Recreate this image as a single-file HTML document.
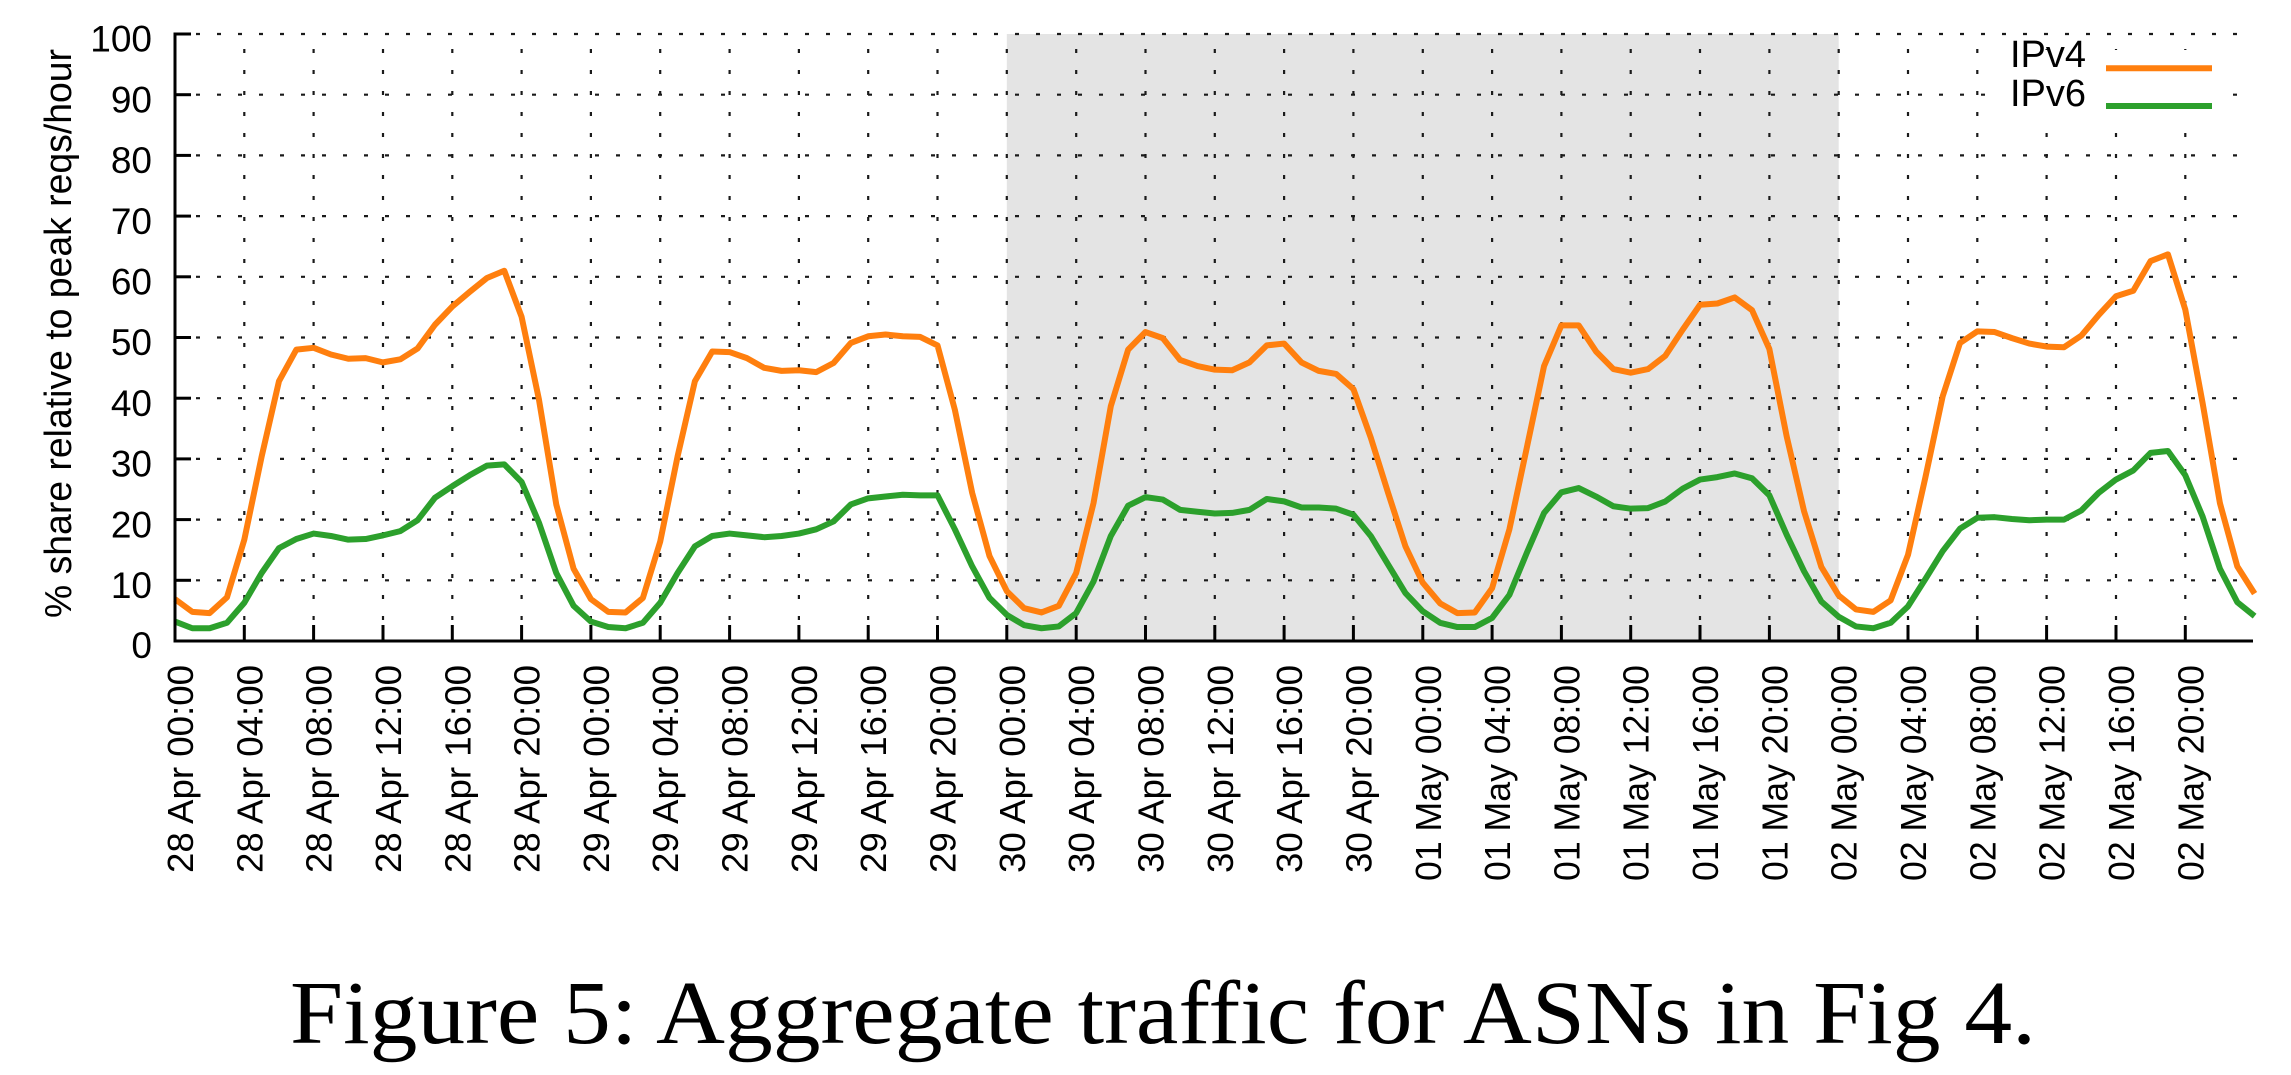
<!DOCTYPE html>
<html>
<head>
<meta charset="utf-8">
<style>
  html, body { margin: 0; padding: 0; background: #ffffff; }
  svg { display: block; }
  text { font-family: "Liberation Sans", Arial, sans-serif; fill: #000; }
  .title { font-family: "Liberation Serif", "Times New Roman", serif; }
</style>
</head>
<body>
<svg width="2291" height="1075" viewBox="0 0 2291 1075" xmlns="http://www.w3.org/2000/svg">
  <rect x="0" y="0" width="2291" height="1075" fill="#ffffff"/>

  <!-- weekend shading -->
  <rect x="1006.8" y="34" width="831.9" height="607" fill="#e4e4e4"/>

  <!-- horizontal grid -->
  <g stroke="#1a1a1a" stroke-width="2.2" stroke-dasharray="4 17" fill="none">
    <line x1="175" y1="580.3" x2="2253" y2="580.3"/>
    <line x1="175" y1="519.6" x2="2253" y2="519.6"/>
    <line x1="175" y1="458.9" x2="2253" y2="458.9"/>
    <line x1="175" y1="398.2" x2="2253" y2="398.2"/>
    <line x1="175" y1="337.5" x2="2253" y2="337.5"/>
    <line x1="175" y1="276.8" x2="2253" y2="276.8"/>
    <line x1="175" y1="216.1" x2="2253" y2="216.1"/>
    <line x1="175" y1="155.4" x2="2253" y2="155.4"/>
    <line x1="175" y1="94.7" x2="2253" y2="94.7"/>
    <line x1="175" y1="34" x2="2253" y2="34"/>
  </g>
  <!-- vertical grid -->
  <g stroke="#1a1a1a" stroke-width="2.2" stroke-dasharray="4 17" fill="none">
    <line x1="244.3" y1="641" x2="244.3" y2="34"/>
    <line x1="313.6" y1="641" x2="313.6" y2="34"/>
    <line x1="383.0" y1="641" x2="383.0" y2="34"/>
    <line x1="452.3" y1="641" x2="452.3" y2="34"/>
    <line x1="521.6" y1="641" x2="521.6" y2="34"/>
    <line x1="590.9" y1="641" x2="590.9" y2="34"/>
    <line x1="660.2" y1="641" x2="660.2" y2="34"/>
    <line x1="729.6" y1="641" x2="729.6" y2="34"/>
    <line x1="798.9" y1="641" x2="798.9" y2="34"/>
    <line x1="868.2" y1="641" x2="868.2" y2="34"/>
    <line x1="937.5" y1="641" x2="937.5" y2="34"/>
    <line x1="1006.8" y1="641" x2="1006.8" y2="34"/>
    <line x1="1076.2" y1="641" x2="1076.2" y2="34"/>
    <line x1="1145.5" y1="641" x2="1145.5" y2="34"/>
    <line x1="1214.8" y1="641" x2="1214.8" y2="34"/>
    <line x1="1284.1" y1="641" x2="1284.1" y2="34"/>
    <line x1="1353.4" y1="641" x2="1353.4" y2="34"/>
    <line x1="1422.8" y1="641" x2="1422.8" y2="34"/>
    <line x1="1492.1" y1="641" x2="1492.1" y2="34"/>
    <line x1="1561.4" y1="641" x2="1561.4" y2="34"/>
    <line x1="1630.7" y1="641" x2="1630.7" y2="34"/>
    <line x1="1700.0" y1="641" x2="1700.0" y2="34"/>
    <line x1="1769.4" y1="641" x2="1769.4" y2="34"/>
    <line x1="1838.7" y1="641" x2="1838.7" y2="34"/>
    <line x1="1908.0" y1="641" x2="1908.0" y2="34"/>
    <line x1="1977.3" y1="641" x2="1977.3" y2="34"/>
    <line x1="2046.6" y1="641" x2="2046.6" y2="34"/>
    <line x1="2116.0" y1="641" x2="2116.0" y2="34"/>
    <line x1="2185.3" y1="641" x2="2185.3" y2="34"/>
  </g>

  <!-- legend box (opaque) -->
  <rect x="1988" y="50" width="237" height="76" fill="#ffffff"/>

  <!-- data series -->
  <g transform="translate(175 641) scale(17.33 -6.07)" fill="none">
    <polyline vector-effect="non-scaling-stroke" stroke="#ff7f0e" stroke-width="6" stroke-linejoin="round"
      points="0,6.9 1,4.8 2,4.6 3,7.2 4,16.7 5,30.4 6,42.8 7,48.0 8,48.3 9,47.2 10,46.5 11,46.6 12,45.9 13,46.4 14,48.2 15,52.1 16,55.1 17,57.5 18,59.8 19,61.0 20,53.4 21,39.8 22,22.5 23,11.9 24,6.9 25,4.8 26,4.7 27,7.1 28,16.4 29,30.4 30,42.8 31,47.7 32,47.6 33,46.6 34,45.0 35,44.5 36,44.6 37,44.3 38,45.8 39,49.1 40,50.2 41,50.5 42,50.2 43,50.1 44,48.7 45,38.1 46,24.4 47,14.0 48,8.2 49,5.4 50,4.7 51,5.8 52,11.2 53,22.7 54,38.7 55,48.0 56,50.9 57,49.9 58,46.3 59,45.3 60,44.7 61,44.6 62,45.9 63,48.7 64,49.0 65,45.9 66,44.5 67,44.0 68,41.5 69,33.5 70,24.4 71,15.6 72,9.6 73,6.2 74,4.6 75,4.7 76,8.7 77,18.4 78,31.8 79,45.3 80,52.0 81,52.0 82,47.7 83,44.8 84,44.2 85,44.8 86,47.0 87,51.3 88,55.4 89,55.6 90,56.6 91,54.5 92,48.1 93,33.7 94,21.4 95,12.2 96,7.5 97,5.2 98,4.8 99,6.7 100,14.2 101,26.9 102,40.3 103,49.1 104,51.0 105,50.9 106,49.9 107,49.0 108,48.5 109,48.4 110,50.3 111,53.7 112,56.8 113,57.7 114,62.6 115,63.7 116,54.6 117,39.2 118,22.7 119,12.3 120,7.8"/>
    <polyline vector-effect="non-scaling-stroke" stroke="#2ca02c" stroke-width="6" stroke-linejoin="round"
      points="0,3.2 1,2.1 2,2.1 3,3.0 4,6.3 5,11.2 6,15.3 7,16.8 8,17.7 9,17.3 10,16.7 11,16.8 12,17.4 13,18.1 14,19.9 15,23.6 16,25.5 17,27.3 18,28.9 19,29.1 20,26.2 21,19.5 22,11.2 23,5.8 24,3.2 25,2.3 26,2.1 27,3.0 28,6.3 29,11.2 30,15.6 31,17.3 32,17.7 33,17.4 34,17.1 35,17.3 36,17.7 37,18.4 38,19.7 39,22.5 40,23.5 41,23.8 42,24.1 43,24.0 44,24.0 45,18.4 46,12.3 47,7.1 48,4.3 49,2.6 50,2.1 51,2.4 52,4.6 53,9.8 54,17.3 55,22.3 56,23.7 57,23.3 58,21.6 59,21.3 60,21.0 61,21.1 62,21.6 63,23.4 64,23.0 65,22.0 66,22.0 67,21.8 68,20.8 69,17.3 70,12.6 71,7.9 72,4.9 73,3.0 74,2.3 75,2.3 76,3.8 77,7.6 78,14.5 79,21.1 80,24.5 81,25.2 82,23.8 83,22.2 84,21.8 85,21.9 86,23.0 87,25.1 88,26.6 89,27.0 90,27.6 91,26.8 92,24.0 93,17.5 94,11.5 95,6.5 96,4.0 97,2.4 98,2.1 99,3.0 100,5.7 101,10.2 102,14.8 103,18.5 104,20.3 105,20.4 106,20.1 107,19.9 108,20.0 109,20.0 110,21.5 111,24.4 112,26.6 113,28.1 114,31.0 115,31.3 116,27.3 117,20.5 118,11.9 119,6.4 120,4.1"/>
  </g>

  <!-- axes -->
  <g stroke="#000" stroke-width="3" fill="none">
    <line x1="175" y1="32.5" x2="175" y2="642.5"/>
    <line x1="173.5" y1="641" x2="2253" y2="641"/>
    <!-- y ticks -->
    <line x1="175" y1="580.3" x2="191" y2="580.3"/>
    <line x1="175" y1="519.6" x2="191" y2="519.6"/>
    <line x1="175" y1="458.9" x2="191" y2="458.9"/>
    <line x1="175" y1="398.2" x2="191" y2="398.2"/>
    <line x1="175" y1="337.5" x2="191" y2="337.5"/>
    <line x1="175" y1="276.8" x2="191" y2="276.8"/>
    <line x1="175" y1="216.1" x2="191" y2="216.1"/>
    <line x1="175" y1="155.4" x2="191" y2="155.4"/>
    <line x1="175" y1="94.7" x2="191" y2="94.7"/>
    <line x1="175" y1="34" x2="191" y2="34"/>
    <!-- x ticks -->
    <line x1="244.3" y1="641" x2="244.3" y2="625"/>
    <line x1="313.6" y1="641" x2="313.6" y2="625"/>
    <line x1="383.0" y1="641" x2="383.0" y2="625"/>
    <line x1="452.3" y1="641" x2="452.3" y2="625"/>
    <line x1="521.6" y1="641" x2="521.6" y2="625"/>
    <line x1="590.9" y1="641" x2="590.9" y2="625"/>
    <line x1="660.2" y1="641" x2="660.2" y2="625"/>
    <line x1="729.6" y1="641" x2="729.6" y2="625"/>
    <line x1="798.9" y1="641" x2="798.9" y2="625"/>
    <line x1="868.2" y1="641" x2="868.2" y2="625"/>
    <line x1="937.5" y1="641" x2="937.5" y2="625"/>
    <line x1="1006.8" y1="641" x2="1006.8" y2="625"/>
    <line x1="1076.2" y1="641" x2="1076.2" y2="625"/>
    <line x1="1145.5" y1="641" x2="1145.5" y2="625"/>
    <line x1="1214.8" y1="641" x2="1214.8" y2="625"/>
    <line x1="1284.1" y1="641" x2="1284.1" y2="625"/>
    <line x1="1353.4" y1="641" x2="1353.4" y2="625"/>
    <line x1="1422.8" y1="641" x2="1422.8" y2="625"/>
    <line x1="1492.1" y1="641" x2="1492.1" y2="625"/>
    <line x1="1561.4" y1="641" x2="1561.4" y2="625"/>
    <line x1="1630.7" y1="641" x2="1630.7" y2="625"/>
    <line x1="1700.0" y1="641" x2="1700.0" y2="625"/>
    <line x1="1769.4" y1="641" x2="1769.4" y2="625"/>
    <line x1="1838.7" y1="641" x2="1838.7" y2="625"/>
    <line x1="1908.0" y1="641" x2="1908.0" y2="625"/>
    <line x1="1977.3" y1="641" x2="1977.3" y2="625"/>
    <line x1="2046.6" y1="641" x2="2046.6" y2="625"/>
    <line x1="2116.0" y1="641" x2="2116.0" y2="625"/>
    <line x1="2185.3" y1="641" x2="2185.3" y2="625"/>
  </g>

  <!-- y tick labels -->
  <g font-size="37" text-anchor="end">
    <text x="152" y="658">0</text>
    <text x="152" y="598">10</text>
    <text x="152" y="537.3">20</text>
    <text x="152" y="476.6">30</text>
    <text x="152" y="415.9">40</text>
    <text x="152" y="355.2">50</text>
    <text x="152" y="294.5">60</text>
    <text x="152" y="233.8">70</text>
    <text x="152" y="173.1">80</text>
    <text x="152" y="112.4">90</text>
    <text x="152" y="51.7">100</text>
  </g>

  <!-- y axis label -->
  <text font-size="38" text-anchor="middle" textLength="569" lengthAdjust="spacingAndGlyphs"
        transform="translate(71 333.5) rotate(-90)">% share relative to peak reqs/hour</text>

  <!-- x tick labels -->
  <g font-size="36" text-anchor="end">
    <text transform="translate(193 665) rotate(-90)" textLength="208" lengthAdjust="spacingAndGlyphs">28 Apr 00:00</text>
    <text transform="translate(262.3 665) rotate(-90)" textLength="208" lengthAdjust="spacingAndGlyphs">28 Apr 04:00</text>
    <text transform="translate(331.6 665) rotate(-90)" textLength="208" lengthAdjust="spacingAndGlyphs">28 Apr 08:00</text>
    <text transform="translate(401.0 665) rotate(-90)" textLength="208" lengthAdjust="spacingAndGlyphs">28 Apr 12:00</text>
    <text transform="translate(470.3 665) rotate(-90)" textLength="208" lengthAdjust="spacingAndGlyphs">28 Apr 16:00</text>
    <text transform="translate(539.6 665) rotate(-90)" textLength="208" lengthAdjust="spacingAndGlyphs">28 Apr 20:00</text>
    <text transform="translate(608.9 665) rotate(-90)" textLength="208" lengthAdjust="spacingAndGlyphs">29 Apr 00:00</text>
    <text transform="translate(678.2 665) rotate(-90)" textLength="208" lengthAdjust="spacingAndGlyphs">29 Apr 04:00</text>
    <text transform="translate(747.6 665) rotate(-90)" textLength="208" lengthAdjust="spacingAndGlyphs">29 Apr 08:00</text>
    <text transform="translate(816.9 665) rotate(-90)" textLength="208" lengthAdjust="spacingAndGlyphs">29 Apr 12:00</text>
    <text transform="translate(886.2 665) rotate(-90)" textLength="208" lengthAdjust="spacingAndGlyphs">29 Apr 16:00</text>
    <text transform="translate(955.5 665) rotate(-90)" textLength="208" lengthAdjust="spacingAndGlyphs">29 Apr 20:00</text>
    <text transform="translate(1024.8 665) rotate(-90)" textLength="208" lengthAdjust="spacingAndGlyphs">30 Apr 00:00</text>
    <text transform="translate(1094.2 665) rotate(-90)" textLength="208" lengthAdjust="spacingAndGlyphs">30 Apr 04:00</text>
    <text transform="translate(1163.5 665) rotate(-90)" textLength="208" lengthAdjust="spacingAndGlyphs">30 Apr 08:00</text>
    <text transform="translate(1232.8 665) rotate(-90)" textLength="208" lengthAdjust="spacingAndGlyphs">30 Apr 12:00</text>
    <text transform="translate(1302.1 665) rotate(-90)" textLength="208" lengthAdjust="spacingAndGlyphs">30 Apr 16:00</text>
    <text transform="translate(1371.4 665) rotate(-90)" textLength="208" lengthAdjust="spacingAndGlyphs">30 Apr 20:00</text>
    <text transform="translate(1440.8 665) rotate(-90)" textLength="216" lengthAdjust="spacingAndGlyphs">01 May 00:00</text>
    <text transform="translate(1510.1 665) rotate(-90)" textLength="216" lengthAdjust="spacingAndGlyphs">01 May 04:00</text>
    <text transform="translate(1579.4 665) rotate(-90)" textLength="216" lengthAdjust="spacingAndGlyphs">01 May 08:00</text>
    <text transform="translate(1648.7 665) rotate(-90)" textLength="216" lengthAdjust="spacingAndGlyphs">01 May 12:00</text>
    <text transform="translate(1718.0 665) rotate(-90)" textLength="216" lengthAdjust="spacingAndGlyphs">01 May 16:00</text>
    <text transform="translate(1787.4 665) rotate(-90)" textLength="216" lengthAdjust="spacingAndGlyphs">01 May 20:00</text>
    <text transform="translate(1856.7 665) rotate(-90)" textLength="216" lengthAdjust="spacingAndGlyphs">02 May 00:00</text>
    <text transform="translate(1926.0 665) rotate(-90)" textLength="216" lengthAdjust="spacingAndGlyphs">02 May 04:00</text>
    <text transform="translate(1995.3 665) rotate(-90)" textLength="216" lengthAdjust="spacingAndGlyphs">02 May 08:00</text>
    <text transform="translate(2064.6 665) rotate(-90)" textLength="216" lengthAdjust="spacingAndGlyphs">02 May 12:00</text>
    <text transform="translate(2134.0 665) rotate(-90)" textLength="216" lengthAdjust="spacingAndGlyphs">02 May 16:00</text>
    <text transform="translate(2203.3 665) rotate(-90)" textLength="216" lengthAdjust="spacingAndGlyphs">02 May 20:00</text>
  </g>

  <!-- legend -->
  <g font-size="38" text-anchor="end">
    <text x="2086" y="67">IPv4</text>
    <text x="2086" y="106">IPv6</text>
  </g>
  <line x1="2106" y1="68.3" x2="2212" y2="68.3" stroke="#ff7f0e" stroke-width="6"/>
  <line x1="2106" y1="106" x2="2212" y2="106" stroke="#2ca02c" stroke-width="6"/>

  <!-- caption -->
  <text class="title" x="290" y="1043" font-size="90" textLength="1746" lengthAdjust="spacingAndGlyphs">Figure 5: Aggregate traffic for ASNs in Fig 4.</text>
</svg>
</body>
</html>
